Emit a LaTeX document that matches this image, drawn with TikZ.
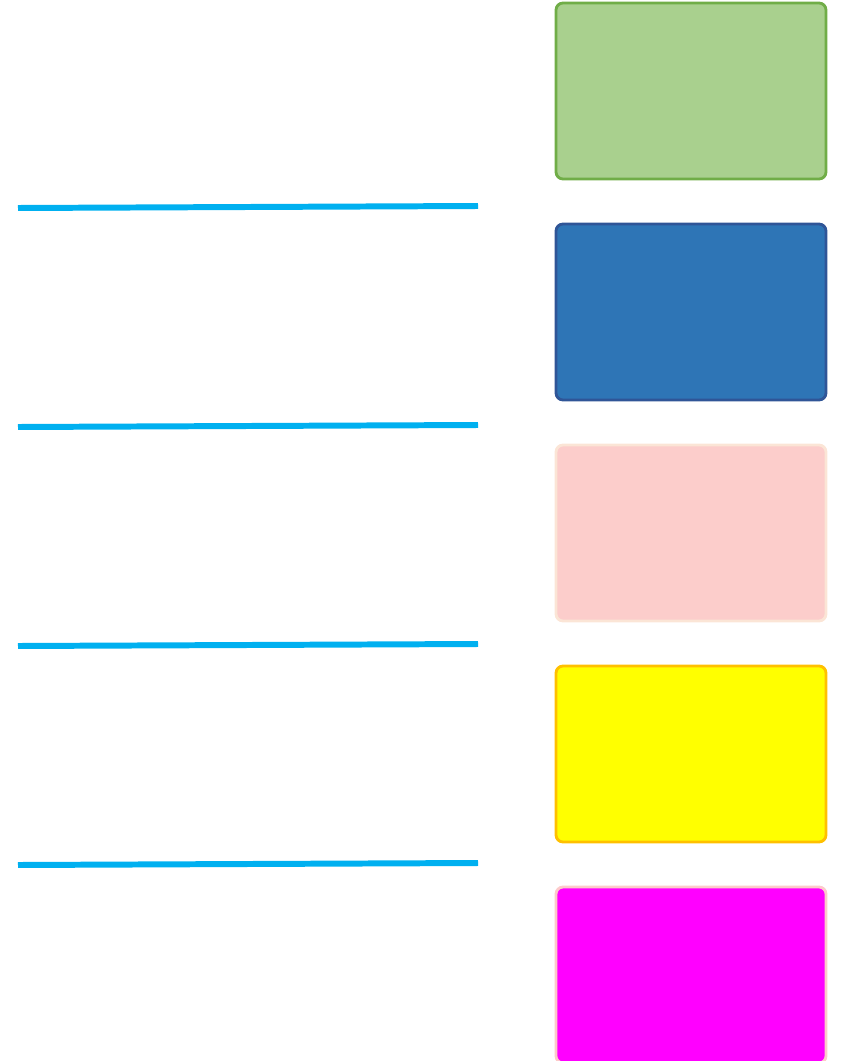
\documentclass[tikz,border=0pt]{standalone}
\usepackage{tikz}
\usetikzlibrary{positioning}
\definecolor{lvlgreen}{HTML}{A9D08E}
\definecolor{lvlgreenb}{HTML}{70AD47}
\definecolor{lvlblue}{HTML}{2E75B6}
\definecolor{lvlblueb}{HTML}{2F5597}
\definecolor{lvlpink}{HTML}{FCCDCB}
\definecolor{lvlpinkb}{HTML}{FBE5D6}
\definecolor{lvlyellow}{HTML}{FFFF00}
\definecolor{lvlyellowb}{HTML}{FFC000}
\definecolor{lvlmagenta}{HTML}{FF00FF}
\definecolor{lvlmagentab}{HTML}{FDCACA}
\definecolor{rulecyan}{HTML}{00B0F0}
\tikzset{
  card/.style={rectangle,rounded corners=4pt,line width=1.6pt,minimum width=5.4cm,minimum height=3.52cm,inner sep=0pt},
  sepline/.style={line width=3.4pt,draw=rulecyan},
}
\begin{document}
\begin{tikzpicture}
  \useasboundingbox (0,0) rectangle (16.92,-21.22);
  % colour cards on the right
  \foreach \n/\y/\f/\b in {c1/1.82/lvlgreen/lvlgreenb, c2/6.24/lvlblue/lvlblueb, c3/10.66/lvlpink/lvlpinkb, c4/15.08/lvlyellow/lvlyellowb, c5/19.5/lvlmagenta/lvlmagentab} {
     \node[card,fill=\f,draw=\b] (\n) at (13.82,-\y) {};
  }
  % separator lines on the left
  \foreach \i/\y in {1/4.16, 2/8.54, 3/12.92, 4/17.30} {
     \coordinate (s\i a) at (0.36,-\y);
     \coordinate (s\i b) at (9.56,-\y+0.04);
     \draw[sepline] (s\i a) -- (s\i b);
  }
\end{tikzpicture}
\end{document}
